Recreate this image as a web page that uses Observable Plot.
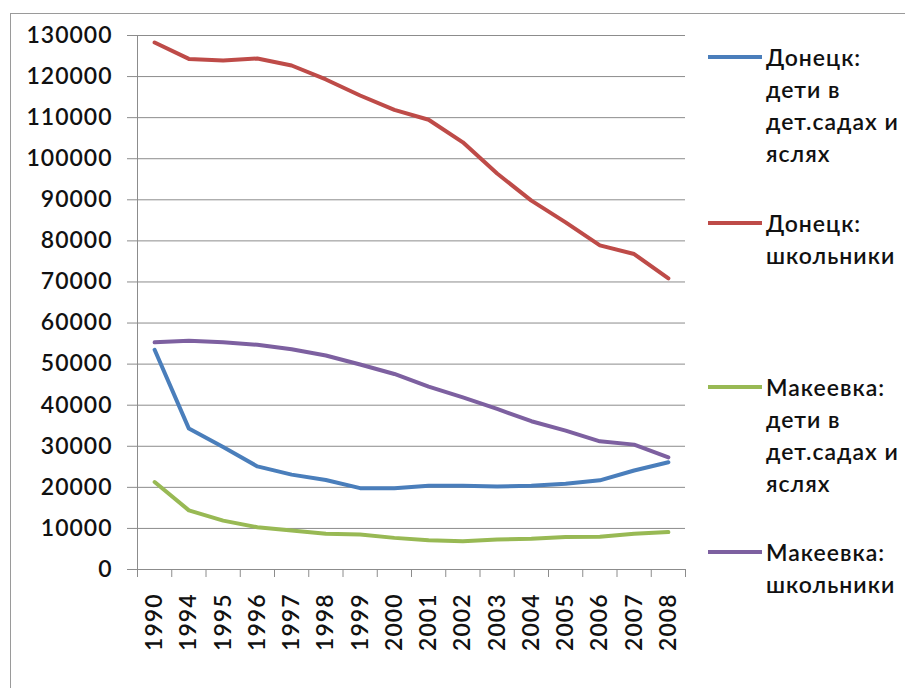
<!DOCTYPE html>
<html><head><meta charset="utf-8">
<script src="https://cdn.jsdelivr.net/npm/d3@7"></script>
<script src="https://cdn.jsdelivr.net/npm/@observablehq/plot@0.6"></script>
<style>
body{margin:0;background:#fff;}
#wrap{position:relative;width:905px;height:688px;overflow:hidden;background:#fff;font-family:Lato,"Open Sans",sans-serif;}
#border{position:absolute;left:10px;top:13px;width:1000px;height:1000px;border:1.5px solid #9a9a9a;box-sizing:border-box;}
#chart{position:absolute;left:0;top:0;}
.item{position:absolute;left:707px;}
.item svg{position:absolute;left:0;top:0;}
.item .txt{position:absolute;left:59px;top:0;font-size:23px;font-weight:600;letter-spacing:1px;line-height:32px;white-space:nowrap;color:#111;}
</style>
</head><body>
<div id="wrap"><div id="border"></div><div id="chart"></div><div id="legend"></div></div>
<script>
const years = ["1990","1994","1995","1996","1997","1998","1999","2000","2001","2002","2003","2004","2005","2006","2007","2008"];
const yTicks = [0,10000,20000,30000,40000,50000,60000,70000,80000,90000,100000,110000,120000,130000];
const seriesNames = ["Донецк: дети в дет.садах и яслях","Донецк: школьники","Макеевка: дети в дет.садах и яслях","Макеевка: школьники"];
const legendLines = [["Донецк:","дети в","дет.садах и","яслях"],["Донецк:","школьники"],["Макеевка:","дети в","дет.садах и","яслях"],["Макеевка:","школьники"]];
const colors = ["#4a7ebb","#be4b48","#98b954","#7d60a0"];
const donetskKids   = [53500,34300,29800,25100,23100,21800,19800,19800,20400,20400,20200,20400,20900,21700,24100,26100];
const donetskSchool = [128300,124300,123900,124400,122700,119300,115400,111900,109500,104000,96400,89800,84500,78900,76800,70900];
const makeevkaKids  = [21300,14400,11900,10300,9500,8700,8500,7700,7100,6900,7300,7500,7900,8000,8700,9100];
const makeevkaSchool= [55300,55700,55300,54700,53600,52100,49900,47600,44500,41900,39100,36100,33800,31200,30400,27300];
const values = [donetskKids, donetskSchool, makeevkaKids, makeevkaSchool];

const rows = [];
seriesNames.forEach((name, s) => values[s].forEach((v, i) => rows.push({series: name, i, value: v})));
const boundaries = d3.range(years.length + 1).map(i => i - 0.5);
const grid = "#8c8c8c";

const chart = Plot.plot({
  width: 905, height: 688,
  marginLeft: 137, marginRight: 220, marginTop: 35, marginBottom: 119,
  x: {type: "linear", domain: [-0.5, years.length - 0.5]},
  y: {domain: [0, 130000]},
  color: {domain: seriesNames, range: colors},
  style: {fontFamily: 'Lato, "Open Sans", sans-serif', fontSize: "23px", fontWeight: 600, letterSpacing: "1px", color: "#111", background: "transparent"},
  marks: [
    Plot.ruleY(yTicks, {stroke: grid, strokeWidth: 1}),
    Plot.ruleX([-0.5], {stroke: grid, strokeWidth: 1}),
    Plot.axisY(yTicks, {tickSize: 10, tickPadding: 15, stroke: grid, strokeOpacity: 1, fill: "#111", tickFormat: d => String(d), label: null}),
    Plot.axisX(boundaries, {tickSize: 8, stroke: grid, strokeOpacity: 1, tickFormat: () => "", label: null}),
    Plot.text(d3.range(years.length), {x: d => d, frameAnchor: "bottom", text: i => years[i], rotate: -90, textAnchor: "end", lineAnchor: "middle", dy: 24, fill: "#111", fontSize: 23}),
    Plot.line(rows, {x: "i", y: "value", z: "series", stroke: "series", strokeWidth: 4, strokeLinejoin: "round", strokeLinecap: "round"})
  ]
});
document.getElementById("chart").appendChild(chart);

const tops = [41, 207, 371, 536];
const legend = document.getElementById("legend");
legendLines.forEach((lines, s) => {
  const div = document.createElement("div");
  div.className = "item";
  div.style.top = tops[s] + "px";
  div.innerHTML = `<svg width="56" height="32"><line x1="1" x2="55" y1="16" y2="16" stroke="${colors[s]}" stroke-width="4"/></svg><div class="txt">${lines.join("<br>")}</div>`;
  legend.appendChild(div);
});
</script>
</body></html>
